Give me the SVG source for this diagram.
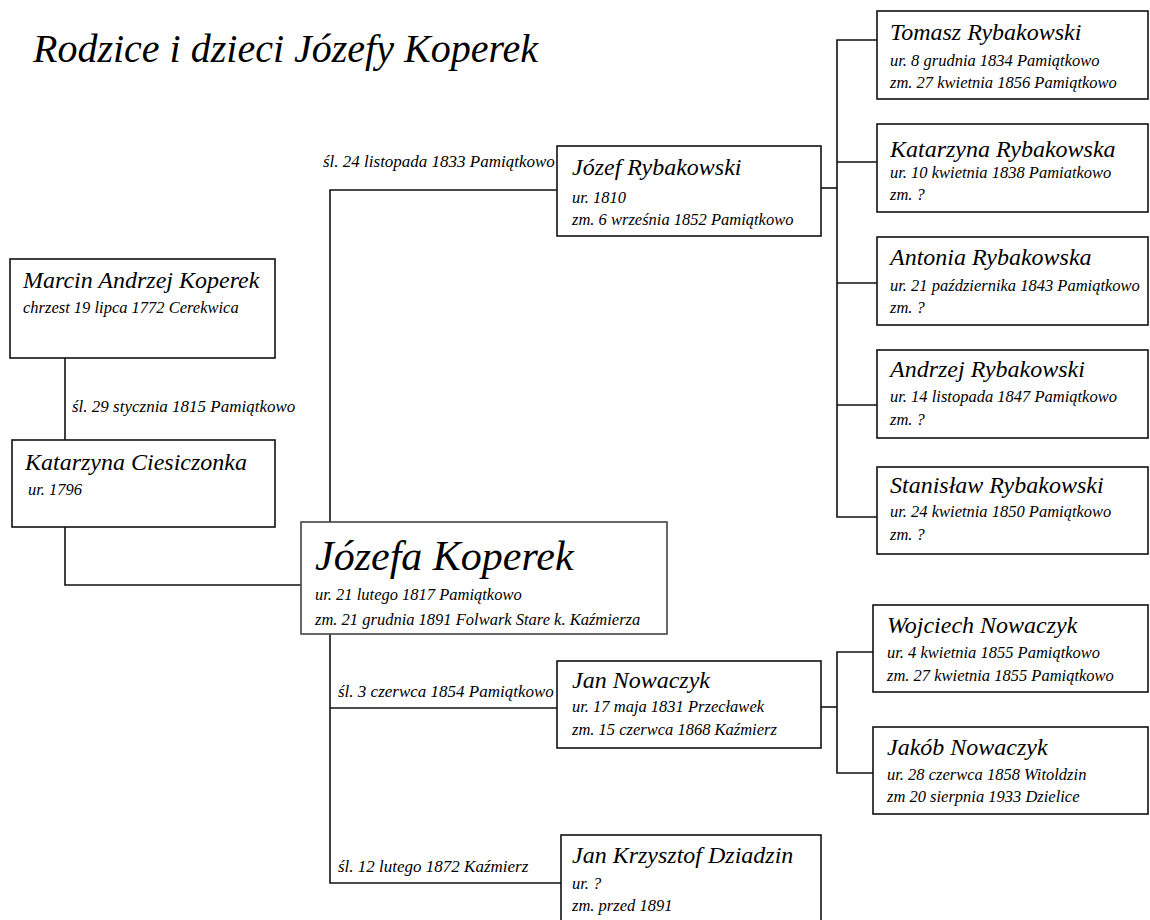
<svg xmlns="http://www.w3.org/2000/svg" width="1150" height="920" viewBox="0 0 1150 920">
<style>
text{font-family:"Liberation Serif","DejaVu Serif",serif;font-style:italic;fill:#000}
.title{font-size:40px}
.nm{font-size:24px}
.big{font-size:42px}
.d{font-size:16.5px}
.lbl{font-size:17px}
.box{fill:#fff;stroke:#111;stroke-width:1.6}
.ln{fill:none;stroke:#111;stroke-width:1.6}
</style>
<rect width="1150" height="920" fill="#fff"/>
<text class="title" x="33" y="62">Rodzice i dzieci Józefy Koperek</text>
<g id="connectors">
<path class="ln" d="M65 358V440"/>
<path class="ln" d="M65 527V585H301"/>
<path class="ln" d="M557 190H330V883H561"/>
<path class="ln" d="M330 708H557"/>
<path class="ln" d="M821 188H837"/>
<path class="ln" d="M877 40H837V517H877M837 162H877M837 283H877M837 405H877"/>
<path class="ln" d="M821 707H837"/>
<path class="ln" d="M873 652H837V773H873"/>
<text class="lbl" x="72" y="412">śl. 29 stycznia 1815 Pamiątkowo</text>
<text class="lbl" x="323" y="167">śl. 24 listopada 1833 Pamiątkowo</text>
<text class="lbl" x="338" y="697">śl. 3 czerwca 1854 Pamiątkowo</text>
<text class="lbl" x="338" y="872">śl. 12 lutego 1872 Kaźmierz</text>
</g>
<g id="marcin">
<rect class="box" x="10" y="259" width="265" height="99"/>
<text class="nm" x="23" y="288">Marcin Andrzej Koperek</text>
<text class="d" x="23" y="313">chrzest 19 lipca 1772 Cerekwica</text>
</g>
<g id="katarzyna-ciesiczonka">
<rect class="box" x="12" y="440" width="263" height="87"/>
<text class="nm" x="25" y="470">Katarzyna Ciesiczonka</text>
<text class="d" x="28" y="495">ur. 1796</text>
</g>
<g id="jozefa">
<rect class="box" x="301" y="522" width="366" height="112" style="stroke:#444"/>
<text class="big" x="315" y="570">Józefa Koperek</text>
<text class="d" x="315" y="600">ur. 21 lutego 1817 Pamiątkowo</text>
<text class="d" x="315" y="625">zm. 21 grudnia 1891 Folwark Stare k. Kaźmierza</text>
</g>
<g id="jozef">
<rect class="box" x="557" y="146" width="264" height="90"/>
<text class="nm" x="572" y="175">Józef Rybakowski</text>
<text class="d" x="572" y="203">ur. 1810</text>
<text class="d" x="572" y="225">zm. 6 września 1852 Pamiątkowo</text>
</g>
<g id="tomasz">
<rect class="box" x="877" y="11" width="271" height="88"/>
<text class="nm" x="890" y="40">Tomasz Rybakowski</text>
<text class="d" x="890" y="66">ur. 8 grudnia 1834 Pamiątkowo</text>
<text class="d" x="890" y="88">zm. 27 kwietnia 1856 Pamiątkowo</text>
</g>
<g id="katarzyna-rybakowska">
<rect class="box" x="877" y="124" width="271" height="88"/>
<text class="nm" x="890" y="157">Katarzyna Rybakowska</text>
<text class="d" x="890" y="178">ur. 10 kwietnia 1838 Pamiatkowo</text>
<text class="d" x="890" y="200">zm. ?</text>
</g>
<g id="antonia">
<rect class="box" x="877" y="237" width="271" height="88"/>
<text class="nm" x="890" y="265">Antonia Rybakowska</text>
<text class="d" x="890" y="291">ur. 21 października 1843 Pamiątkowo</text>
<text class="d" x="890" y="313">zm. ?</text>
</g>
<g id="andrzej">
<rect class="box" x="877" y="350" width="271" height="88"/>
<text class="nm" x="890" y="377">Andrzej Rybakowski</text>
<text class="d" x="890" y="402">ur. 14 listopada 1847 Pamiątkowo</text>
<text class="d" x="890" y="425">zm. ?</text>
</g>
<g id="stanislaw">
<rect class="box" x="877" y="467" width="271" height="87"/>
<text class="nm" x="890" y="493">Stanisław Rybakowski</text>
<text class="d" x="890" y="517">ur. 24 kwietnia 1850 Pamiątkowo</text>
<text class="d" x="890" y="540">zm. ?</text>
</g>
<g id="jan-nowaczyk">
<rect class="box" x="557" y="661" width="264" height="87"/>
<text class="nm" x="572" y="688">Jan Nowaczyk</text>
<text class="d" x="572" y="712">ur. 17 maja 1831 Przecławek</text>
<text class="d" x="572" y="735">zm. 15 czerwca 1868 Kaźmierz</text>
</g>
<g id="wojciech">
<rect class="box" x="873" y="605" width="275" height="87"/>
<text class="nm" x="887" y="633">Wojciech Nowaczyk</text>
<text class="d" x="887" y="658">ur. 4 kwietnia 1855 Pamiątkowo</text>
<text class="d" x="887" y="681">zm. 27 kwietnia 1855 Pamiątkowo</text>
</g>
<g id="jakob">
<rect class="box" x="873" y="727" width="275" height="87"/>
<text class="nm" x="887" y="755">Jakób Nowaczyk</text>
<text class="d" x="887" y="780">ur. 28 czerwca 1858 Witoldzin</text>
<text class="d" x="887" y="802">zm 20 sierpnia 1933 Dzielice</text>
</g>
<g id="jan-dziadzin">
<rect class="box" x="561" y="835" width="260" height="100"/>
<text class="nm" x="572" y="863">Jan Krzysztof Dziadzin</text>
<text class="d" x="572" y="889">ur.  ?</text>
<text class="d" x="572" y="911">zm. przed 1891</text>
</g>
</svg>
